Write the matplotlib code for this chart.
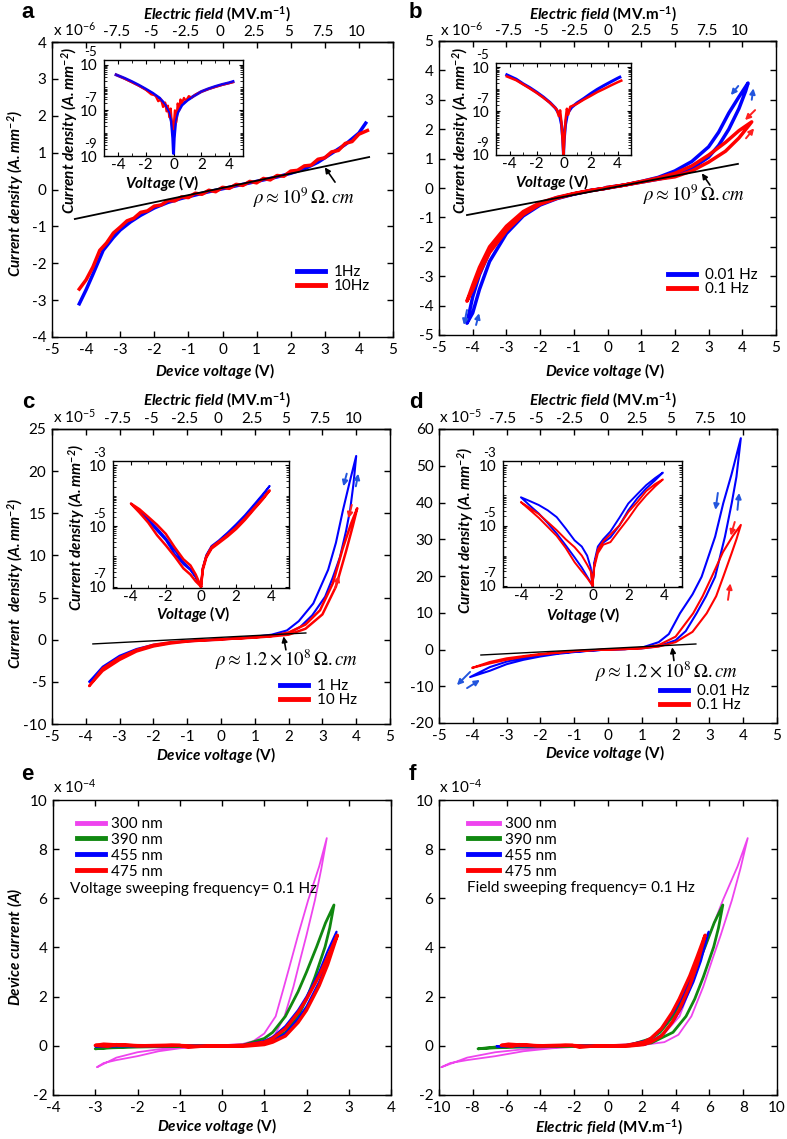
import numpy as np
import matplotlib
matplotlib.use("Agg")
import matplotlib.pyplot as plt
from matplotlib.lines import Line2D
from matplotlib.ticker import MultipleLocator, LogLocator, NullFormatter

plt.rcParams.update({
    "font.family": ["Lato", "DejaVu Sans"],
    "font.size": 11,
    "axes.unicode_minus": False,
    "mathtext.fontset": "custom",
    "mathtext.rm": "Lato",
    "mathtext.it": "Lato:italic",
    "mathtext.bf": "Lato:bold",
    "mathtext.bfit": "Lato:italic:bold",
    "axes.linewidth": 1.0,
})

# ---------------- data ----------------
# a: J in 1e-6 A/mm2
a_v1 = [-4.2, -4.0, -3.8, -3.5, -3.2, -3.0, -2.7, -2.4, -2.0, -1.6, -1.2, -0.8, -0.4, 0.0,
        0.4, 0.8, 1.2, 1.6, 2.0, 2.4, 2.8, 3.2, 3.6, 4.0, 4.2]
a_j1 = [-3.1, -2.72, -2.3, -1.65, -1.3, -1.1, -0.88, -0.7, -0.5, -0.35, -0.24, -0.15, -0.06, 0.02,
        0.1, 0.18, 0.26, 0.34, 0.44, 0.56, 0.74, 0.98, 1.22, 1.53, 1.8]
a_v10 = [-4.2, -4.0, -3.8, -3.6, -3.4, -3.2, -3.0, -2.8, -2.6, -2.4, -2.2, -2.0, -1.8, -1.6, -1.4,
         -1.2, -1.0, -0.8, -0.6, -0.4, -0.2, 0.0, 0.2, 0.4, 0.6, 0.8, 1.0, 1.2, 1.4, 1.6, 1.8,
         2.0, 2.2, 2.4, 2.6, 2.8, 3.0, 3.2, 3.4, 3.6, 3.8, 4.0, 4.25]
a_j10 = [-2.7, -2.45, -2.1, -1.65, -1.45, -1.18, -1.02, -0.85, -0.78, -0.62, -0.58, -0.45, -0.42,
         -0.30, -0.31, -0.20, -0.22, -0.10, -0.13, -0.02, -0.06, 0.06, 0.03, 0.14, 0.11, 0.22,
         0.18, 0.30, 0.26, 0.38, 0.36, 0.50, 0.52, 0.64, 0.66, 0.82, 0.86, 1.02, 1.06, 1.25,
         1.30, 1.50, 1.60]
a_ohm_v = [-4.33, 4.3]
a_ohm_j = [-0.8, 0.88]
# a inset: |J| in A/mm2
ai_v1 = [-4.13, -3.5, -3.0, -2.5, -2.0, -1.5, -1.0, -0.6, -0.3, -0.15, -0.05, 0.0, 0.05, 0.15,
         0.3, 0.6, 1.0, 1.5, 2.0, 2.5, 3.0, 3.5, 4.0, 4.28]
ai_j1 = [3.6e-6, 2.5e-6, 1.8e-6, 1.26e-6, 8.5e-7, 5.6e-7, 3.4e-7, 1.8e-7, 8e-8, 3.2e-8, 6.3e-9,
         1.3e-9, 6.3e-9, 3.2e-8, 8e-8, 1.7e-7, 2.8e-7, 4.4e-7, 6.6e-7, 8.7e-7, 1.1e-6, 1.35e-6,
         1.6e-6, 1.8e-6]
ai_v10 = [-4.13, -3.5, -3.0, -2.5, -2.0, -1.6, -1.3, -1.1, -0.9, -0.75, -0.6, -0.5, -0.4, -0.3,
          -0.2, -0.1, 0.0, 0.1, 0.2, 0.3, 0.4, 0.5, 0.6, 0.75, 0.9, 1.1, 1.3, 1.6, 2.0, 2.5,
          3.0, 3.5, 4.0, 4.28]
ai_j10 = [3.6e-6, 2.4e-6, 1.7e-6, 1.2e-6, 8e-7, 5e-7, 4.5e-7, 2.5e-7, 3e-7, 1.4e-7, 2.2e-7,
          9e-8, 1.6e-7, 5e-8, 1.2e-7, 2e-8, 1.5e-8, 1e-7, 3e-8, 2e-7, 1e-7, 3e-7, 2e-7, 3.5e-7,
          2.6e-7, 4.2e-7, 3.6e-7, 5e-7, 6.5e-7, 8.5e-7, 1.05e-6, 1.3e-6, 1.55e-6, 1.7e-6]

# b: J in 1e-6 A/mm2, sweeps as loops
b_v001 = [0, 0.5, 1.0, 1.5, 2.0, 2.5, 3.0, 3.3, 3.6, 3.9, 4.1, 4.17,
          3.9, 3.6, 3.3, 3.0, 2.5, 2.0, 1.5, 1.0, 0.5, 0,
          -0.5, -1.0, -1.5, -2.0, -2.5, -3.0, -3.5, -3.8, -4.0, -4.17,
          -4.0, -3.8, -3.5, -3.0, -2.5, -2.0, -1.5, -1.0, -0.5, 0]
b_j001 = [0.02, 0.1, 0.2, 0.3, 0.42, 0.66, 1.05, 1.45, 2.0, 2.7, 3.3, 3.57,
          3.1, 2.55, 1.9, 1.4, 0.9, 0.58, 0.36, 0.22, 0.1, 0.0,
          -0.08, -0.2, -0.33, -0.52, -0.85, -1.35, -2.15, -2.95, -3.7, -4.6,
          -4.25, -3.45, -2.5, -1.55, -0.95, -0.58, -0.36, -0.21, -0.09, 0.0]
b_v01 = [0, 0.5, 1.0, 1.5, 2.0, 2.5, 3.0, 3.5, 3.9, 4.28,
         3.9, 3.5, 3.0, 2.5, 2.0, 1.5, 1.0, 0.5, 0,
         -0.5, -1.0, -1.5, -2.0, -2.5, -3.0, -3.5, -3.8, -4.0, -4.17,
         -4.0, -3.8, -3.5, -3.0, -2.5, -2.0, -1.5, -1.0, -0.5, 0]
b_j01 = [0.02, 0.1, 0.2, 0.3, 0.38, 0.58, 0.88, 1.25, 1.7, 2.25,
         1.95, 1.55, 1.12, 0.75, 0.5, 0.34, 0.22, 0.1, 0.0,
         -0.08, -0.19, -0.32, -0.5, -0.8, -1.3, -2.0, -2.7, -3.3, -3.85,
         -3.45, -2.9, -2.2, -1.45, -0.9, -0.55, -0.35, -0.2, -0.09, 0.0]
b_ohm_v = [-4.17, 3.87]
b_ohm_j = [-0.92, 0.82]
bi_v001 = [-4.2, -3.5, -3.0, -2.5, -2.0, -1.5, -1.0, -0.6, -0.3, -0.15, -0.05, 0.0, 0.05, 0.15,
           0.3, 0.6, 1.0, 1.5, 2.0, 2.5, 3.0, 3.5, 4.0, 4.17]
bi_j001 = [4.6e-6, 2.9e-6, 1.8e-6, 1.2e-6, 7.5e-7, 4.5e-7, 2.5e-7, 1.4e-7, 7e-8, 2.5e-8, 5e-9,
           1e-9, 5e-9, 2.5e-8, 8e-8, 1.5e-7, 2.4e-7, 3.8e-7, 6.3e-7, 1e-6, 1.5e-6, 2.2e-6,
           3.2e-6, 3.6e-6]
bi_v01 = [-4.2, -3.5, -3.0, -2.5, -2.0, -1.5, -1.0, -0.7, -0.5, -0.35, -0.25, -0.15, -0.08, 0.0,
          0.08, 0.15, 0.25, 0.35, 0.5, 0.7, 1.0, 1.5, 2.0, 2.5, 3.0, 3.5, 4.0, 4.28]
bi_j01 = [3.9e-6, 2.6e-6, 1.7e-6, 1.1e-6, 7e-7, 4.2e-7, 2.4e-7, 1.6e-7, 1.2e-7, 6e-8, 1.1e-7,
          3e-8, 6e-9, 1e-9, 8e-9, 4e-8, 1.3e-7, 7e-8, 1.6e-7, 1.8e-7, 2.2e-7, 3.4e-7, 5e-7,
          7.5e-7, 1.05e-6, 1.5e-6, 2.1e-6, 2.5e-6]

# c: J in 1e-5 A/mm2
c_v1 = [0, 0.5, 1.0, 1.5, 2.0, 2.34, 2.7, 3.08, 3.3, 3.52, 3.7, 3.82, 3.92, 4.0,
        3.8, 3.61, 3.4, 3.17, 2.73, 2.3, 1.95, 1.5, 1.0, 0.5, 0,
        -0.5, -1.0, -1.5, -2.0, -2.5, -3.0, -3.5, -3.9,
        -3.5, -3.0, -2.5, -2.0, -1.5, -1.0, -0.5, 0]
c_j1 = [0.05, 0.15, 0.3, 0.45, 0.8, 1.5, 2.9, 5.1, 7.3, 9.8, 12.9, 15.4, 18.5, 21.8,
        18.6, 15.4, 11.5, 8.3, 4.3, 2.2, 1.1, 0.6, 0.35, 0.18, 0.05,
        -0.05, -0.15, -0.35, -0.6, -1.1, -1.9, -3.2, -5.0,
        -3.5, -2.2, -1.3, -0.75, -0.4, -0.2, -0.08, 0.0]
c_v10 = [0, 0.5, 1.0, 1.5, 2.0, 2.5, 3.0, 3.4, 3.7, 3.9, 4.03,
         3.85, 3.6, 3.31, 2.93, 2.5, 2.0, 1.5, 1.0, 0.5, 0,
         -0.5, -1.0, -1.5, -2.0, -2.5, -3.0, -3.5, -3.9,
         -3.5, -3.0, -2.5, -2.0, -1.5, -1.0, -0.5, 0]
c_j10 = [0.05, 0.15, 0.25, 0.4, 0.6, 1.3, 3.0, 6.3, 10.5, 13.5, 15.6,
         13.8, 10.8, 6.7, 3.5, 1.8, 0.85, 0.45, 0.3, 0.15, 0.05,
         -0.05, -0.15, -0.3, -0.6, -1.2, -2.1, -3.4, -5.5,
         -3.7, -2.4, -1.4, -0.8, -0.45, -0.22, -0.08, 0.0]
c_ohm_v = [-3.79, 2.51]
c_ohm_j = [-0.5, 0.8]
ci_v = [0.0, 0.1, 0.3, 0.6, 1.0, 1.5, 2.0, 2.5, 3.0, 3.5, 3.9,
        3.5, 3.0, 2.5, 2.0, 1.5, 1.0, 0.6, 0.3, 0.1, 0.0,
        -0.3, -0.6, -1.0, -1.5, -2.0, -2.5, -3.0, -3.5, -3.98,
        -3.5, -3.0, -2.5, -2.0, -1.5, -1.0, -0.6, -0.3, 0.0]
ci_j1 = [1e-7, 4e-7, 1e-6, 2e-6, 3e-6, 5.5e-6, 1e-5, 2e-5, 4.5e-5, 1e-4, 2.1e-4,
         1.1e-4, 5e-5, 2.3e-5, 1.15e-5, 6e-6, 3.3e-6, 2.2e-6, 1.1e-6, 4e-7, 1e-7,
         2e-7, 3.5e-7, 5.5e-7, 1.2e-6, 3.4e-6, 7e-6, 1.5e-5, 3e-5, 5.5e-5,
         3.2e-5, 1.7e-5, 8.5e-6, 4e-6, 1.6e-6, 6.5e-7, 3.8e-7, 2.2e-7, 1e-7]
ci_j10 = [1e-7, 3.5e-7, 9e-7, 1.8e-6, 2.7e-6, 4.5e-6, 8e-6, 1.6e-5, 3.5e-5, 7.5e-5, 1.5e-4,
          8e-5, 3.8e-5, 1.8e-5, 9e-6, 5e-6, 3e-6, 2e-6, 1e-6, 4e-7, 1e-7,
          2.5e-7, 5e-7, 8e-7, 2e-6, 5.5e-6, 1.1e-5, 2e-5, 3.6e-5, 5.5e-5,
          2.8e-5, 1.3e-5, 5e-6, 2.3e-6, 1e-6, 4e-7, 2.5e-7, 1.5e-7, 1e-7]

# d: J in 1e-5 A/mm2
d_v001 = [0, 0.5, 1.0, 1.5, 2.0, 2.3, 2.62, 2.9, 3.17, 3.46, 3.66, 3.8, 3.93,
          3.65, 3.41, 3.17, 2.77, 2.5, 2.13, 1.8, 1.5, 1.0, 0.5, 0,
          -0.5, -1.0, -1.5, -2.0, -2.5, -3.0, -3.5, -4.08,
          -3.5, -3.0, -2.5, -2.0, -1.5, -1.0, -0.5, 0]
d_j001 = [0.0, 0.1, 0.3, 0.9, 2.5, 5.0, 9.85, 14.5, 19.8, 30.7, 39.8, 47.0, 57.5,
          47.5, 39.8, 30.7, 19.8, 15.0, 9.85, 4.2, 2.0, 0.5, 0.1, 0.0,
          -0.3, -0.6, -1.0, -1.6, -2.3, -3.3, -4.8, -7.5,
          -5.8, -4.0, -2.8, -1.9, -1.2, -0.7, -0.3, 0.0]
d_v01 = [0, 0.5, 1.0, 1.5, 2.0, 2.5, 2.92, 3.2, 3.41, 3.65, 3.8, 3.93,
         3.7, 3.4, 3.07, 2.8, 2.52, 2.0, 1.5, 1.0, 0.5, 0,
         -0.5, -1.0, -1.5, -2.0, -2.5, -3.0, -3.5, -4.02,
         -3.5, -3.0, -2.5, -2.0, -1.5, -1.0, -0.5, 0]
d_j01 = [0.0, 0.1, 0.3, 0.8, 2.0, 4.8, 9.85, 14.5, 19.8, 26.0, 30.0, 33.9,
         31.0, 26.5, 19.8, 14.5, 9.85, 3.5, 1.2, 0.4, 0.1, 0.0,
         -0.2, -0.4, -0.8, -1.2, -1.8, -2.4, -3.4, -5.0,
         -3.8, -2.8, -2.0, -1.4, -0.9, -0.5, -0.2, 0.0]
d_ohm_v = [-3.76, 2.6]
d_ohm_j = [-1.5, 1.5]
di_v = [0.0, 0.1, 0.3, 0.6, 1.0, 1.5, 2.0, 2.5, 3.0, 3.5, 3.93,
        3.5, 3.0, 2.5, 2.0, 1.5, 1.0, 0.6, 0.3, 0.1, 0.0,
        -0.1, -0.3, -0.6, -1.0, -1.5, -2.0, -2.5, -3.0, -3.5, -4.0,
        -3.5, -3.0, -2.5, -2.0, -1.5, -1.0, -0.6, -0.3, 0.0]
di_j001 = [1e-7, 5e-7, 1.5e-6, 2.7e-6, 4e-6, 1e-5, 3.2e-5, 8e-5, 1.7e-4, 3.2e-4, 5.75e-4,
           3.8e-4, 2.2e-4, 1.1e-4, 5.4e-5, 1.8e-5, 6.3e-6, 3.5e-6, 2e-6, 6e-7, 1e-7,
           4e-7, 1e-6, 2e-6, 3.2e-6, 8e-6, 1.9e-5, 3.2e-5, 4.8e-5, 6.5e-5, 8.7e-5,
           4.6e-5, 2.5e-5, 1.2e-5, 5.4e-6, 2.2e-6, 8.7e-7, 4e-7, 2e-7, 1e-7]
di_j01 = [1e-7, 4e-7, 1.2e-6, 2.3e-6, 2.8e-6, 7e-6, 1.7e-5, 4.5e-5, 1e-4, 2e-4, 3.4e-4,
          2.4e-4, 1.4e-4, 6e-5, 2.8e-5, 1e-5, 5e-6, 3e-6, 1.6e-6, 5e-7, 1e-7,
          3e-7, 5e-7, 1e-6, 1.9e-6, 3.5e-6, 7e-6, 1.3e-5, 2.4e-5, 3.8e-5, 6e-5,
          3.3e-5, 1.8e-5, 9e-6, 4.5e-6, 1.8e-6, 6e-7, 3e-7, 1.8e-7, 1e-7]

# e/f: device current in 1e-4 A for four film thicknesses
thick_nm = [300, 390, 455, 475]
e_v300 = [0, 0.5, 1.0, 1.25, 1.48, 1.69, 1.85, 2.0, 2.2, 2.35, 2.48,
          2.3, 2.04, 1.8, 1.61, 1.45, 1.27, 1.0, 0.75, 0.5, 0,
          -0.5, -1.0, -1.5, -2.0, -2.5, -2.96,
          -2.8, -2.5, -2.0, -1.5, -1.0, -0.5, 0]
e_i300 = [0, 0.0, 0.15, 0.45, 1.2, 2.4, 3.5, 4.5, 5.93, 7.2, 8.45,
          7.3, 5.93, 4.5, 3.3, 2.3, 1.2, 0.5, 0.2, 0.08, 0.02,
          -0.03, -0.06, -0.14, -0.26, -0.48, -0.87,
          -0.7, -0.58, -0.42, -0.22, -0.1, -0.03, 0]
e_v390 = [0, 0.5, 1.0, 1.5, 1.8, 2.0, 2.2, 2.44, 2.55, 2.65,
          2.45, 2.24, 2.0, 1.8, 1.5, 1.2, 1.0, 0.5, 0,
          -1.0, -2.0, -2.6, -3.0, -2.6, -2.0, -1.0, 0]
e_i390 = [0, 0.0, 0.12, 0.55, 1.2, 1.9, 2.8, 4.03, 4.8, 5.73,
          5.0, 4.03, 3.0, 2.2, 1.2, 0.55, 0.3, 0.03, 0.0,
          -0.02, -0.05, -0.08, -0.12, -0.05, -0.02, 0.0, 0.0]
e_v455 = [0, 0.5, 1.0, 1.2, 1.5, 1.8, 2.0, 2.3, 2.5, 2.71,
          2.5, 2.3, 2.0, 1.8, 1.5, 1.2, 1.0, 0.5, 0,
          -1.0, -2.0, -3.0, -2.0, -1.0, 0]
e_i455 = [0, 0.0, 0.05, 0.2, 0.5, 1.1, 1.6, 2.6, 3.45, 4.64,
          3.85, 3.0, 2.0, 1.45, 0.8, 0.35, 0.2, 0.03, 0.0,
          0.0, -0.02, -0.02, 0.01, 0.0, 0.0]
e_v475 = [0, 0.5, 1.0, 1.2, 1.5, 1.8, 2.0, 2.3, 2.5, 2.73,
          2.5, 2.3, 2.0, 1.8, 1.5, 1.2, 1.0, 0.5, 0,
          -0.5, -0.8, -1.0, -1.5, -2.0, -2.5, -2.7, -3.0,
          -2.8, -2.4, -2.0, -1.2, -0.5, 0]
e_i475 = [0, -0.02, 0.05, 0.15, 0.4, 0.95, 1.45, 2.45, 3.3, 4.5,
          3.6, 2.85, 1.9, 1.35, 0.7, 0.3, 0.15, 0.02, 0.0,
          -0.02, -0.06, 0.02, 0.0, 0.01, 0.05, -0.02, 0.02,
          0.07, 0.03, 0.0, 0.03, -0.02, 0]

# sweep-direction arrows: (colour, tail, head) in data units
b_arrows = [("#2255DD", (3.88, 3.47), (3.66, 3.16)), ("#2255DD", (4.28, 3.0), (4.33, 3.39)),
            ("#FF2020", (4.38, 2.65), (4.08, 2.31)), ("#FF2020", (4.11, 1.69), (4.35, 2.03)),
            ("#2255DD", (-4.17, -4.15), (-4.26, -4.66)), ("#2255DD", (-3.9, -4.66), (-3.81, -4.26))]
c_arrows = [("#2255DD", (3.72, 19.7), (3.62, 18.2)), ("#2255DD", (3.99, 18.2), (4.06, 19.7)),
            ("#FF2020", (3.87, 16.0), (3.77, 14.4)), ("#FF2020", (3.37, 6.1), (3.49, 7.6))]
d_arrows = [("#2255DD", (3.25, 42.6), (3.18, 38.0)), ("#2255DD", (3.83, 38.0), (3.88, 42.6)),
            ("#FF2020", (3.75, 34.7), (3.63, 31.0)), ("#FF2020", (3.55, 13.5), (3.62, 18.0)),
            ("#2255DD", (-4.08, -6.1), (-4.47, -9.7)), ("#2255DD", (-4.17, -10.5), (-3.79, -8.3))]

BLUE = "#0000FF"
RED = "#FF0000"
thick_colors = ["#EE44EE", "#108810", "#0000FF", "#FF0000"]
thick_lw = [1.3, 2.0, 1.6, 2.4]

# ---------------- layout helpers (pixel boxes of the 787x1139 figure) ----------------
W, H = 787, 1139
fig = plt.figure(figsize=(W / 100, H / 100), dpi=100)


def frect(x0, y0, x1, y1):
    return [x0 / W, 1 - y1 / H, (x1 - x0) / W, (y1 - y0) / H]


def fxy(x, y):
    return (x / W, 1 - y / H)


def bi(s):
    return r"$\mathbfit{" + s.replace(" ", r"\ ") + "}$"


def main_axes(box, xlim, ylim, xstep, ystep):
    ax = fig.add_axes(frect(*box))
    ax.set_xlim(xlim)
    ax.set_ylim(ylim)
    ax.xaxis.set_major_locator(MultipleLocator(xstep))
    ax.yaxis.set_major_locator(MultipleLocator(ystep))
    ax.tick_params(direction="in", top=True, right=True, length=4, width=1,
                   pad=4, labelsize=11)
    return ax


def xlabel(ax, text, x, y, size=11):
    ax.set_xlabel(text, fontweight="bold", fontsize=size)
    ax.xaxis.set_label_coords(*fxy(x, y), transform=fig.transFigure)
    ax.xaxis.label.set_va("center")


def ylabel(ax, text, x, y, size=11):
    ax.set_ylabel(text, fontweight="bold", fontsize=size)
    ax.yaxis.set_label_coords(*fxy(x, y), transform=fig.transFigure)
    ax.yaxis.label.set_va("center")


def top_axis(ax, scale, shift, lx, ly):
    sec = ax.secondary_xaxis("top", functions=(lambda v: (v - shift) / scale,
                                               lambda e: e * scale + shift))
    sec.set_xticks([-7.5, -5, -2.5, 0, 2.5, 5, 7.5, 10])
    sec.set_xticklabels(["-7.5", "-5", "-2.5", "0", "2.5", "5", "7.5", "10"])
    sec.tick_params(length=0, pad=2, labelsize=11)
    sec.set_xlabel(bi("Electric field") + r" (MV.m$^{\mathbf{-1}}$)",
                   fontweight="bold", fontsize=11)
    sec.xaxis.set_label_coords(*fxy(lx, ly), transform=fig.transFigure)
    sec.xaxis.label.set_va("center")
    return sec


def scale_text(x, y, expo):
    fig.text(*fxy(x, y), r"x 10$^{%s}$" % expo, fontsize=11, ha="left", va="baseline")


def inset(box, ylim, decades):
    ax = fig.add_axes(frect(*box))
    ax.set_yscale("log")
    ax.set_xlim(-5, 5)
    ax.set_ylim(ylim)
    ax.set_xticks([-4, -2, 0, 2, 4])
    ax.xaxis.set_minor_locator(MultipleLocator(1))
    ax.set_yticks([10.0 ** k for k in decades])
    ax.set_yticklabels(["10"] * len(decades))
    ax.yaxis.set_minor_locator(LogLocator(base=10, subs=np.arange(1, 10), numticks=30))
    ax.yaxis.set_minor_formatter(NullFormatter())
    ax.tick_params(which="both", direction="in", top=True, right=True, labelsize=11)
    ax.tick_params(which="major", length=3)
    ax.tick_params(axis="y", pad=5)
    ax.tick_params(axis="x", pad=1.5)
    ax.tick_params(which="minor", length=2)
    # MATLAB-style exponent sitting above each "10"
    for k in decades:
        ax.annotate(str(k), xy=(0, 10.0 ** k), xycoords=("axes fraction", "data"),
                    xytext=(-5, 4.5), textcoords="offset points", ha="right",
                    va="bottom", fontsize=9.5)
    ax.set_facecolor("white")
    return ax


def legend(ax, handles, labels, x, y, hlen=1.85, hpad=0.55, spacing=0.0):
    ax.legend(handles, labels, loc="upper left", bbox_to_anchor=fxy(x, y),
              bbox_transform=fig.transFigure, frameon=False, borderpad=0,
              borderaxespad=0, handlelength=hlen, handletextpad=hpad,
              labelspacing=spacing, fontsize=11)


def arrows(ax, items):
    for col, tail, head in items:
        ax.annotate("", xy=head, xytext=tail,
                    arrowprops=dict(arrowstyle="-|>", color=col, lw=1.4,
                                    mutation_scale=8, shrinkA=0, shrinkB=0))


def rho_note(ax, text, pos, tail, head):
    ax.text(*pos, text, fontsize=13.5, math_fontfamily="stix", va="baseline")
    ax.annotate("", xy=head, xytext=tail,
                arrowprops=dict(arrowstyle="-|>", color="black", lw=1.2,
                                mutation_scale=8, shrinkA=0, shrinkB=0))


def panel_letter(ch, x, y):
    fig.text(*fxy(x, y), ch, fontsize=16, fontweight="bold",
             family="Liberation Sans", va="baseline")


def leg_line(c):
    return Line2D([], [], color=c, lw=3.5)


J_LABEL = bi("Current density (A.mm^{-2})")
V_LABEL = bi("Device voltage") + " (V)"
INSET_X = bi("Voltage") + " (V)"
RHO9 = r"$\rho \approx 10^{9}\,\Omega{.}cm$"
RHO8 = r"$\rho \approx 1.2\times10^{8}\,\Omega{.}cm$"

# ---------------- panel a ----------------
ax = main_axes((52, 42, 393, 337), (-5, 5), (-4, 4), 1, 1)
ax.plot(a_v1, a_j1, color=BLUE, lw=2.5)
ax.plot(a_v10, a_j10, color=RED, lw=2.5)
ax.plot(a_ohm_v, a_ohm_j, color="black", lw=1.3)
rho_note(ax, RHO9, (0.9, -0.38), (3.3, 0.2), (3.0, 0.6))
legend(ax, [leg_line(BLUE), leg_line(RED)], ["1Hz", "10Hz"], 297, 265)
top_axis(ax, 0.402, -0.08, 217, 14)
xlabel(ax, V_LABEL, 215, 371)
ylabel(ax, J_LABEL, 16, 193)
scale_text(53, 36, "-6")
panel_letter("a", 21, 18)

ins = inset((104, 60, 243, 156), (1e-9, 1.6e-5), [-9, -7, -5])
ins.plot(ai_v1, ai_j1, color=BLUE, lw=2.2)
ins.plot(ai_v10, ai_j10, color=RED, lw=1.6)
ins.plot(ai_v1, ai_j1, color=BLUE, lw=1.2)
xlabel(ins, INSET_X, 162, 183)
ylabel(ins, J_LABEL, 70, 130)

# ---------------- panel b ----------------
ax = main_axes((439, 41, 776, 335), (-5, 5), (-5, 5), 1, 1)
ax.plot(b_v001, b_j001, color=BLUE, lw=2.5)
ax.plot(b_v01, b_j01, color=RED, lw=2.5)
ax.plot(b_ohm_v, b_ohm_j, color="black", lw=1.3)
arrows(ax, b_arrows)
rho_note(ax, RHO9, (1.05, -0.45), (3.04, 0.1), (2.8, 0.5))
legend(ax, [leg_line(BLUE), leg_line(RED)], ["0.01 Hz", "0.1 Hz"], 668, 268)
top_axis(ax, 0.393, 0.0, 603, 14)
xlabel(ax, V_LABEL, 605, 371)
scale_text(440, 36, "-6")
panel_letter("b", 409, 18)

ins = inset((496, 63, 631, 155), (1e-9, 1.6e-5), [-9, -7, -5])
ins.plot(bi_v001, bi_j001, color=BLUE, lw=2.2)
ins.plot(bi_v01, bi_j01, color=RED, lw=1.8)
xlabel(ins, INSET_X, 552, 182)
ylabel(ins, J_LABEL, 461, 130)

# ---------------- panel c ----------------
ax = main_axes((52, 429, 390, 724), (-5, 5), (-10, 25), 1, 5)
ax.plot(c_v1, c_j1, color=BLUE, lw=1.5)
ax.plot(c_v10, c_j10, color=RED, lw=1.8)
ax.plot(c_ohm_v, c_ohm_j, color="black", lw=1.0)
arrows(ax, c_arrows)
rho_note(ax, RHO8, (-0.18, -3.1), (1.92, -1.2), (1.85, 0.4))
legend(ax, [leg_line(BLUE), leg_line(RED)], ["1 Hz", "10 Hz"], 280, 679)
top_axis(ax, 0.399, -0.08, 217, 400)
xlabel(ax, V_LABEL, 216, 755)
ylabel(ax, bi("Current  density (A.mm^{-2})"), 16, 583)
scale_text(53, 423, "-5")
panel_letter("c", 22, 408)

ins = inset((113, 461, 289, 588), (0.9e-7, 1.4e-3), [-7, -5, -3])
ins.plot(ci_v, ci_j1, color=BLUE, lw=1.4)
ins.plot(ci_v, ci_j10, color=RED, lw=1.8)
xlabel(ins, INSET_X, 193, 614)
ylabel(ins, J_LABEL, 77, 527)

# ---------------- panel d ----------------
ax = main_axes((439, 429, 777, 723), (-5, 5), (-20, 60), 1, 10)
ax.plot(d_v001, d_j001, color=BLUE, lw=1.5)
ax.plot(d_v01, d_j01, color=RED, lw=1.5)
ax.plot(d_ohm_v, d_ohm_j, color="black", lw=1.0)
arrows(ax, d_arrows)
rho_note(ax, RHO8, (-0.38, -7.8), (1.95, -3.0), (1.9, 0.6))
legend(ax, [leg_line(BLUE), leg_line(RED)], ["0.01 Hz", "0.1 Hz"], 660, 684)
top_axis(ax, 0.398, -0.13, 603, 400)
xlabel(ax, V_LABEL, 605, 753)
scale_text(439, 423, "-5")
panel_letter("d", 409, 408)

ins = inset((503, 461, 682, 587), (0.9e-7, 1.4e-3), [-7, -5, -3])
ins.plot(di_v, di_j001, color=BLUE, lw=1.4)
ins.plot(di_v, di_j01, color=RED, lw=1.4)
xlabel(ins, INSET_X, 583, 615)
ylabel(ins, J_LABEL, 466, 530)

# ---------------- panels e and f ----------------
e_v = [e_v300, e_v390, e_v455, e_v475]
e_i = [e_i300, e_i390, e_i455, e_i475]
labels = ["%d nm" % t for t in thick_nm]

ax = main_axes((53, 800, 391, 1095), (-4, 4), (-2, 10), 1, 2)
for v, i, c, lw in zip(e_v, e_i, thick_colors, thick_lw):
    ax.plot(v, i, color=c, lw=lw)
legend(ax, [leg_line(c) for c in thick_colors], labels, 77, 817,
       hlen=1.85, hpad=0.35, spacing=0.12)
fig.text(*fxy(70, 889), "Voltage sweeping frequency= 0.1 Hz", fontsize=11, va="center")
xlabel(ax, V_LABEL, 217, 1126)
ylabel(ax, bi("Device current (A)"), 15, 947)
scale_text(53, 793, "-4")
panel_letter("e", 21, 780)

ax = main_axes((439, 800, 777, 1095), (-10, 10), (-2, 10), 2, 2)
for v, i, t, c, lw in zip(e_v, e_i, thick_nm, thick_colors, thick_lw):
    ax.plot(np.array(v) / (t / 1000.0), i, color=c, lw=lw)
legend(ax, [leg_line(c) for c in thick_colors], labels, 468, 817,
       hlen=2.05, hpad=0.4, spacing=0.12)
fig.text(*fxy(467, 888), "Field sweeping frequency= 0.1 Hz", fontsize=11, va="center")
xlabel(ax, bi("Electric field") + r" (MV.m$^{\mathbf{-1}}$)", 609, 1127)
scale_text(439, 793, "-4")
panel_letter("f", 409, 780)

fig.savefig("out.png", dpi=100)
